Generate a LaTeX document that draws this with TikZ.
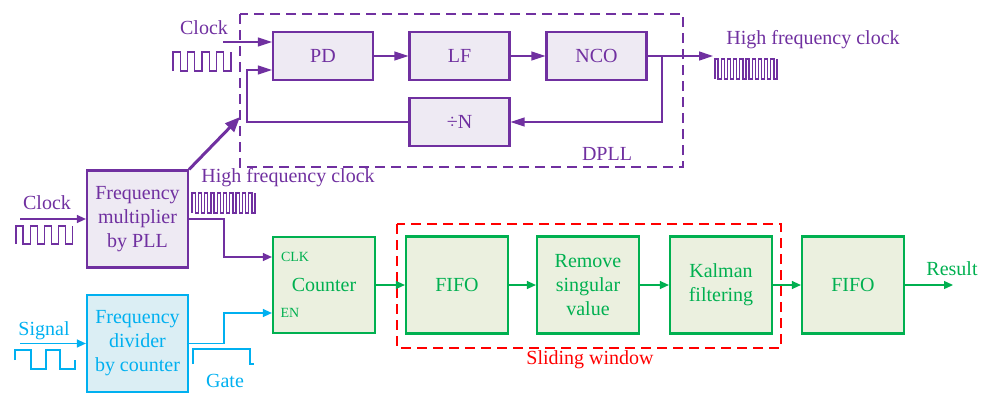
\documentclass[tikz,border=0pt]{standalone}
\usepackage{fontspec}
\setmainfont{Liberation Serif}
\usepackage{tikz}
\usetikzlibrary{arrows.meta}
\definecolor{pllpurple}{HTML}{7030A0}
\definecolor{pllfill}{HTML}{EEEAF3}
\definecolor{cntgreen}{HTML}{00B050}
\definecolor{cntfill}{HTML}{EBF0DF}
\definecolor{divcyan}{HTML}{00B0F0}
\definecolor{divfill}{HTML}{DBEEF4}
\definecolor{winred}{HTML}{FF0000}
\tikzset{
  blockbox/.style  = {draw,line width=2.2pt,minimum width=100pt,minimum height=48pt,
                      inner sep=0pt,align=center},
  bigbox/.style    = {blockbox,minimum width=101pt,minimum height=97pt},
  sigarr/.style    = {-{Triangle[length=9pt,width=8pt]},line width=1.3pt},
  looparr/.style   = {-{Triangle[length=14pt,width=9pt]},line width=1.3pt},
  fatarr/.style    = {-{Triangle[length=15pt,width=12pt]},line width=3pt},
  frameline/.style = {line width=1.4pt,dash pattern=on 10pt off 6pt},
  pinlabel/.style  = {font=\fontsize{14}{16}\selectfont,inner sep=0pt}
}
% square wave: colour, x, bottom y, periods, half period, height
\newcommand{\sqwave}[6]{%
  \draw[#1,line width=1.3pt] (#2,#3)
    \foreach \k in {1,...,#4}{ -- ++(0,-#6) -- ++(#5,0) -- ++(0,#6) -- ++(#5,0)}
    -- ++(0,-#6);
}

\begin{document}
\begin{tikzpicture}[x=1pt,y=-1pt,font=\fontsize{20}{24}\selectfont]
  \useasboundingbox (0,0) rectangle (987,394);

  % DPLL
  \draw[pllpurple,frameline] (240,14) rectangle (683,167);
  \node[pllpurple] (dpllname) at (607,154) {DPLL};
  \node[blockbox,pllpurple,fill=pllfill] (pd)   at (323,56)   {PD};
  \node[blockbox,pllpurple,fill=pllfill] (lf)   at (459.5,56) {LF};
  \node[blockbox,pllpurple,fill=pllfill] (nco)  at (596.5,56) {NCO};
  \node[blockbox,pllpurple,fill=pllfill] (divn) at (459.5,122) {÷N};
  \coordinate (clkin) at (223,42);
  \coordinate (fbk)   at (247,122);
  \coordinate (tap)   at (662,56);
  \coordinate (hfout) at (713,56);
  \coordinate (dpllin) at (240,117);
  \node[pllpurple] (clktop) at (204,28) {Clock};
  \sqwave{pllpurple}{173}{71}{4}{7.25}{19}
  \node[pllpurple] (hftop) at (813,40) {High frequency clock};
  \sqwave{pllpurple}{715}{79}{10}{3.1}{20}
  \draw[looparr,pllpurple] (clkin) -- ([yshift=14pt]pd.west);
  \draw[looparr,pllpurple] (divn.west) -- (fbk) |- ([yshift=-14pt]pd.west);
  \draw[looparr,pllpurple] (pd) -- (lf);
  \draw[looparr,pllpurple] (lf) -- (nco);
  \draw[looparr,pllpurple] (nco.east) -- (hfout);
  \draw[looparr,pllpurple] (tap) |- (divn.east);

  % front end
  \node[bigbox,pllpurple,fill=pllfill] (mult) at (137.5,219)
       {Frequency\\multiplier\\by PLL};
  \node[bigbox,divcyan,fill=divfill] (divider) at (137.5,343.5)
       {Frequency\\divider\\by counter};
  \coordinate (clkL) at (20,219);
  \coordinate (sigL) at (20,343.5);
  \node[pllpurple] (clkleft) at (47,203) {Clock};
  \sqwave{pllpurple}{16}{244}{4}{7.1}{18}
  \node[divcyan] (signame) at (44,331) {Signal};
  \draw[divcyan,line width=1.3pt] (15,360) -- (15,350) -- (31,350) -- (31,369)
       -- (46,369) -- (46,350) -- (60,350) -- (60,369) -- (75,369) -- (75,360);
  \node[pllpurple] (hflow) at (288,178) {High frequency clock};
  \sqwave{pllpurple}{192}{213}{10}{3.15}{20}
  \node[divcyan] (gatename) at (225,381) {Gate};
  \draw[divcyan,line width=1.3pt] (193,364) -- (193,349) -- (250,349) -- (250,364) -- (254,364);
  \draw[sigarr,pllpurple] (clkL) -- (mult.west);
  \draw[sigarr,divcyan] (sigL) -- (divider.west);
  \draw[fatarr,pllpurple] (mult.north east) -- (dpllin);

  % counting chain
  \node[bigbox,cntgreen,fill=cntfill,minimum width=102pt,minimum height=96pt] (counter)
       at (324,285) {Counter};
  \node[pinlabel,cntgreen] (clkpin) at (295,257) {CLK};
  \node[pinlabel,cntgreen] (enpin)  at (290,313) {EN};
  \draw[sigarr,pllpurple] (mult.east) -- ++(35,0) |- ([yshift=28pt]counter.west);
  \draw[sigarr,divcyan] (divider.east) -- ++(35,0) |- ([yshift=-28pt]counter.west);

  \draw[winred,frameline] (397,224) rectangle (781,348);
  \node[winred] (winname) at (590,360) {Sliding window};
  \node[bigbox,cntgreen,fill=cntfill,minimum width=102pt] (fifoA)  at (457,285) {FIFO};
  \node[bigbox,cntgreen,fill=cntfill,minimum width=102pt] (remsv)  at (588,285)
       {Remove\\singular\\value};
  \node[bigbox,cntgreen,fill=cntfill,minimum width=102pt] (kalman) at (721,285)
       {Kalman\\filtering};
  \node[bigbox,cntgreen,fill=cntfill,minimum width=102pt] (fifoB)  at (853,285) {FIFO};
  \coordinate (resout) at (953,285);
  \node[cntgreen] (resname) at (952,269) {Result};
  \draw[sigarr,cntgreen] (counter) -- (fifoA);
  \draw[sigarr,cntgreen] (fifoA) -- (remsv);
  \draw[sigarr,cntgreen] (remsv) -- (kalman);
  \draw[sigarr,cntgreen] (kalman) -- (fifoB);
  \draw[sigarr,cntgreen] (fifoB) -- (resout);
\end{tikzpicture}
\end{document}
